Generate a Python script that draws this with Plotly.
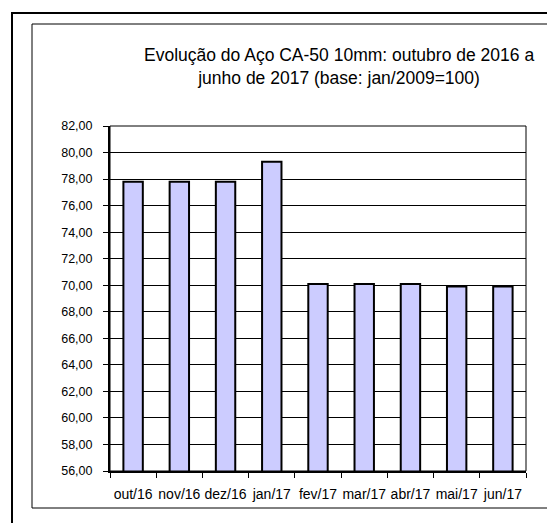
import plotly.graph_objects as go

categories = ["out/16", "nov/16", "dez/16", "jan/17", "fev/17", "mar/17", "abr/17", "mai/17", "jun/17"]
values = [77.8, 77.8, 77.8, 79.3, 70.1, 70.1, 70.1, 69.9, 69.9]
title_text = "Evolução do Aço CA-50 10mm: outubro de 2016 a<br>junho de 2017 (base: jan/2009=100)"

OFF = 8  # page body margin
W, H = 555 - OFF, 523 - OFF
L, R, T, B = 110 - OFF, 526 - OFF, 126 - OFF, 471 - OFF  # plot area in figure px

def px(x):
    return (x - OFF - L) / (R - L)

def py(y):
    return (B - (y - OFF)) / (B - T)

fig = go.Figure()
fig.add_trace(go.Bar(
    x=categories, y=values,
    marker=dict(color="#CCCCFF", line=dict(color="black", width=2)),
    width=0.42,
))

font = "Liberation Sans, Arial, sans-serif"
fig.update_layout(
    width=W, height=H,
    margin=dict(l=L, r=W - R, t=T, b=H - B, autoexpand=False),
    paper_bgcolor="white", plot_bgcolor="white",
    separators=",.",
    showlegend=False,
    font=dict(family=font, size=13, color="black"),
    xaxis=dict(
        type="category", showgrid=False, showline=True, linecolor="black", linewidth=2,
        ticks="outside", tickson="boundaries", ticklen=5, tickcolor="black",
        tickfont=dict(size=14), range=[-0.5, 8.5], tickangle=0, automargin=False,
        ticklabelstandoff=9,
    ),
    yaxis=dict(
        range=[56, 82], dtick=2, tick0=56, tickformat=".2f",
        showgrid=True, gridcolor="black", gridwidth=1,
        showline=True, linecolor="black", linewidth=2,
        ticks="outside", ticklen=5, tickcolor="black",
        tickfont=dict(size=12.5), zeroline=False, automargin=False,
        ticklabelstandoff=8,
    ),
    shapes=[
        dict(type="rect", xref="paper", yref="paper",
             x0=px(12), x1=px(562), y0=py(530), y1=py(13),
             line=dict(color="black", width=2), layer="below"),
        dict(type="rect", xref="paper", yref="paper",
             x0=px(32), x1=px(548), y0=py(508), y1=py(24),
             line=dict(color="black", width=1), layer="below"),
        dict(type="rect", xref="paper", yref="paper",
             x0=0, x1=1, y0=0, y1=1,
             line=dict(color="black", width=1)),
    ],
    annotations=[
        dict(text=title_text, xref="paper", yref="paper",
             x=px(339), y=py(67), xanchor="center", yanchor="middle",
             showarrow=False, align="center",
             font=dict(family=font, size=17.5, color="black")),
    ],
)

fig.write_html("out.html")
